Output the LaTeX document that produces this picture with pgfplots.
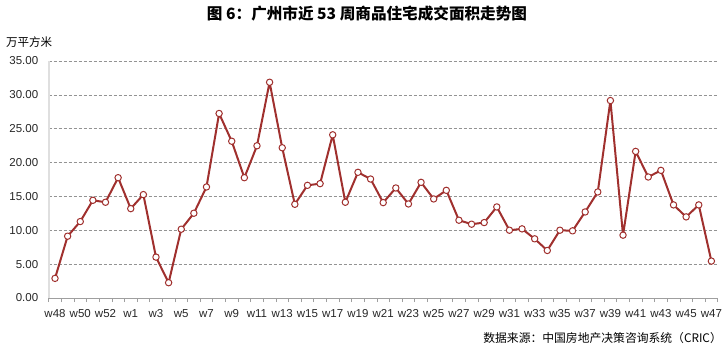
\documentclass[border=0pt]{standalone}
\usepackage{pgfplots}
\pgfplotsset{compat=1.18}
\usepackage{pgfplotstable}
\usepackage{fontspec}
\setmainfont{Liberation Sans}
\newfontfamily\cjk{Noto Sans CJK SC}
\definecolor{lred}{HTML}{A0302E}
\pgfplotstableread{
x y
0 2.90
1 9.13
2 11.29
3 14.43
4 14.14
5 17.77
6 13.20
7 15.27
8 6.04
9 2.26
10 10.16
11 12.52
12 16.40
13 27.25
14 23.15
15 17.77
16 22.48
17 31.86
18 22.19
19 13.84
20 16.64
21 16.89
22 24.10
23 14.14
24 18.56
25 17.57
26 14.09
27 16.25
28 13.89
29 17.08
30 14.63
31 15.90
32 11.49
33 10.90
34 11.14
35 13.45
36 10.01
37 10.21
38 8.74
39 7.02
40 10.01
41 9.92
42 12.71
43 15.66
44 29.16
45 9.28
46 21.65
47 17.87
48 18.85
49 13.75
50 11.98
51 13.75
52 5.45
}\datatable
\begin{document}
\begin{tikzpicture}[x=1pt,y=1pt]
\path (0,0) rectangle (725,354);
\begin{axis}[
  at={(48.7pt,56pt)}, anchor=south west,
  scale only axis, width=669pt, height=237pt,
  xmin=-0.5, xmax=52.5, ymin=0, ymax=35,
  axis x line=bottom, axis y line=left,
  x axis line style={draw=gray!75, line width=0.8pt, -},
  y axis line style={draw=gray!25, line width=2pt, -},
  xtick={0,2,...,52},
  xticklabels={w48,w50,w52,w1,w3,w5,w7,w9,w11,w13,w15,w17,w19,w21,w23,w25,w27,w29,w31,w33,w35,w37,w39,w41,w43,w45,w47},
  minor xtick={-0.5,0.5,...,52.5},
  major tick length=0pt, minor tick length=4pt,
  tick align=outside,
  minor tick style={draw=gray!75, line width=0.6pt},
  ytick={0,5,...,35},
  ytick style={draw=none},
  ymajorgrids, grid style={draw=gray!85, dashed, line width=0.6pt, dash pattern=on 3pt off 2pt},
  /pgf/number format/assume math mode=true,
  yticklabel={\pgfmathprintnumber[fixed,fixed zerofill,precision=2]{\tick}},
  yticklabel style={xshift=-7pt},
  tick label style={font=\fontsize{11.5}{13}\selectfont, text=black!85},
  xticklabel style={inner xsep=0pt, yshift=-8pt},
  clip=false,
]
\addplot[lred, line width=2pt, line join=round, mark=*, mark size=3.2pt,
  mark options={fill=white, draw=lred, line width=1pt}] table[x=x,y=y] {\datatable};
\end{axis}
\node[font=\cjk\bfseries\fontsize{15.6}{17}\selectfont] at (367,340) {图 6：广州市近 53 周商品住宅成交面积走势图};
\node[font=\cjk\fontsize{11.5}{13}\selectfont, anchor=west, inner sep=0pt] at (6,312) {万平方米};
\node[font=\cjk\fontsize{11.8}{13}\selectfont, anchor=east, inner sep=0pt] at (722,16) {数据来源：中国房地产决策咨询系统（CRIC）};
\end{tikzpicture}
\end{document}
